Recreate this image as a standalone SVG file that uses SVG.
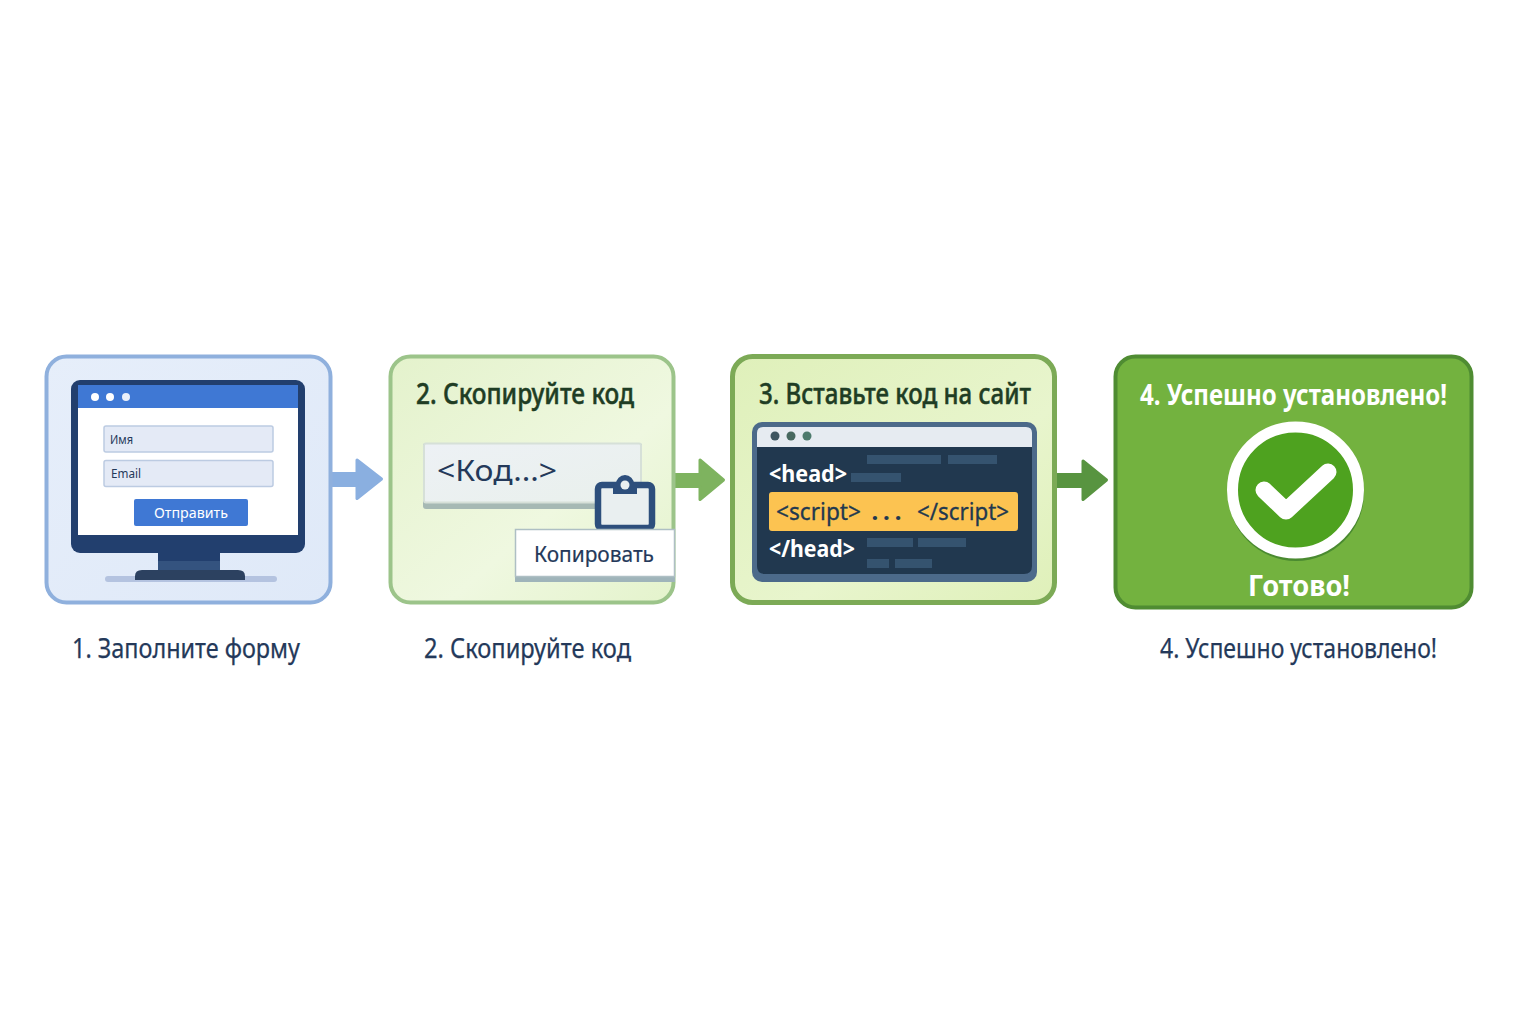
<svg xmlns="http://www.w3.org/2000/svg" width="1536" height="1024" viewBox="0 0 1536 1024">
<defs>
<style>
text{font-family:"Noto Sans","Open Sans","Liberation Sans",sans-serif}
.cap{font-size:27px;fill:#24395a;stroke:#24395a;stroke-width:.25px}
.hd{font-size:29px;font-weight:500;fill:#1f3d24;stroke:#1f3d24;stroke-width:.5px}
.hw{font-size:29px;font-weight:700;fill:#fff}
.code{font-size:24px;font-weight:700;fill:#fff}
.bar{fill:#35536f}
.arr{stroke-width:3px;stroke-linejoin:round}
</style>
<linearGradient id="g1" x1="0" y1="0" x2="1" y2="1"><stop offset="0" stop-color="#e6eefa"/><stop offset="1" stop-color="#dfe9f8"/></linearGradient>
<linearGradient id="g2" x1="0" y1="0" x2="1" y2="1"><stop offset="0" stop-color="#e4f2cc"/><stop offset="0.6" stop-color="#eff8e0"/><stop offset="1" stop-color="#e4f3cc"/></linearGradient>
<linearGradient id="g3" x1="0" y1="0" x2="1" y2="1"><stop offset="0" stop-color="#dff0ba"/><stop offset="0.6" stop-color="#e8f5cd"/><stop offset="1" stop-color="#dff0b9"/></linearGradient>
<linearGradient id="g5" x1="0" y1="0" x2="1" y2="1"><stop offset="0" stop-color="#edf1f5"/><stop offset="1" stop-color="#e9f0ec"/></linearGradient>
</defs>
<rect width="1536" height="1024" fill="#fff"/>
<g id="connectors">
<path class="arr" d="M331 473.500H357V460L381.500 479L357 498.500V485.500H331Z" fill="#8aafe0" stroke="#8aafe0"/>
<path class="arr" d="M674 474.500H700V460L723.500 480L700 499.500V486.500H674Z" fill="#7eb35f" stroke="#7eb35f"/>
<path class="arr" d="M1057 474.500H1083V461L1106.500 480L1083 499.500V486.500H1057Z" fill="#589440" stroke="#589440"/>
</g>
<g id="node1">
<rect x="46.500" y="356.500" width="284" height="246" rx="20" fill="url(#g1)" stroke="#8fb0dd" stroke-width="4"/>
<rect x="71" y="380" width="234" height="173" rx="9" fill="#223f6e"/>
<rect x="78" y="385" width="220" height="23" fill="#3f78d4"/>
<rect x="78" y="408" width="220" height="127" fill="#fff"/>
<circle cx="95" cy="397" r="4" fill="#fff"/><circle cx="110" cy="397" r="4" fill="#fff"/><circle cx="126" cy="397" r="4" fill="#eaf0fa"/>
<rect x="104" y="426" width="169" height="26" rx="2" fill="#e4eaf6" stroke="#bccbe2" stroke-width="1.500"/>
<rect x="104" y="460.500" width="169" height="26" rx="2" fill="#e4eaf6" stroke="#bccbe2" stroke-width="1.500"/>
<text x="110" y="444" font-size="12" fill="#24395a" textLength="23" lengthAdjust="spacingAndGlyphs">Имя</text>
<text x="111" y="478" font-size="12.500" fill="#24395a" textLength="30" lengthAdjust="spacingAndGlyphs">Email</text>
<rect x="134" y="499" width="114" height="27" rx="2" fill="#3f78d4"/>
<text x="191" y="518" font-size="14" fill="#fff" text-anchor="middle" textLength="74" lengthAdjust="spacingAndGlyphs">Отправить</text>
<rect x="105" y="576" width="172" height="6" rx="3" fill="#b4c3e0"/>
<rect x="158" y="553" width="62" height="8" fill="#223f6e"/>
<rect x="158" y="561" width="62" height="10" fill="#34537f"/>
<path d="M135 580V576Q135 570 142 570H238Q245 570 245 576V580Z" fill="#2c4160"/>
</g>
<g id="node2">
<rect x="390.500" y="356.500" width="283" height="246" rx="20" fill="url(#g2)" stroke="#9cc48a" stroke-width="4"/>
<text x="416" y="404" class="hd" textLength="218" lengthAdjust="spacingAndGlyphs">2. Скопируйте код</text>
<rect x="423" y="443" width="219" height="66" rx="3" fill="#a6b9b4"/>
<rect x="424" y="443.500" width="217" height="59" rx="2" fill="url(#g5)" stroke="#d6e0d8" stroke-width="2"/>
<text x="437" y="481" font-size="29" fill="#24395a" textLength="120" lengthAdjust="spacingAndGlyphs">&lt;Код...&gt;</text>
<rect x="598" y="485" width="54" height="43" rx="4" fill="#e9eff0" stroke="#2d4f7c" stroke-width="6.500"/>
<path d="M613 494V484H616A9 9 0 0 1 634 484H637V494Z" fill="#2d4f7c"/>
<circle cx="625" cy="485" r="4.500" fill="#e9eff0"/>
<rect x="515" y="529" width="160" height="53" fill="#9fb4ba"/>
<rect x="515.500" y="529.500" width="159" height="47" fill="#fff" stroke="#aebfc4" stroke-width="1.500"/>
<text x="594" y="562" font-size="22" fill="#24395a" stroke="#24395a" stroke-width=".2" text-anchor="middle" textLength="120" lengthAdjust="spacingAndGlyphs">Копировать</text>
</g>
<g id="node3">
<rect x="732.500" y="356.500" width="322" height="246" rx="20" fill="url(#g3)" stroke="#7caa56" stroke-width="5"/>
<text x="759" y="404" class="hd" textLength="272" lengthAdjust="spacingAndGlyphs">3. Вставьте код на сайт</text>
<rect x="752" y="422" width="285" height="160" rx="10" fill="#4c6a8a"/>
<path d="M757 447V433Q757 427 763 427H1026Q1032 427 1032 433V447Z" fill="#e6ebf1"/>
<path d="M757 447H1032V566Q1032 574 1024 574H765Q757 574 757 566Z" fill="#21384f"/>
<circle cx="775" cy="436" r="4.500" fill="#3d5560"/><circle cx="791" cy="436" r="4.500" fill="#47685f"/><circle cx="807" cy="436" r="4.500" fill="#4d7a6c"/>
<text x="769" y="482" class="code" textLength="78" lengthAdjust="spacingAndGlyphs">&lt;head&gt;</text>
<rect x="867" y="455" width="74" height="9" class="bar"/><rect x="948" y="455" width="49" height="9" class="bar"/><rect x="851" y="473" width="50" height="9" class="bar"/>
<rect x="769" y="492" width="249" height="39" rx="3" fill="#fcc351"/>
<text x="776" y="520" font-size="24" fill="#21384f" stroke="#21384f" stroke-width=".3" textLength="85" lengthAdjust="spacingAndGlyphs">&lt;script&gt;</text>
<text x="889" y="520" font-size="24" font-weight="700" fill="#21384f" text-anchor="middle" letter-spacing="5">...</text>
<text x="917" y="520" font-size="24" fill="#21384f" stroke="#21384f" stroke-width=".3" textLength="92" lengthAdjust="spacingAndGlyphs">&lt;/script&gt;</text>
<text x="769" y="557" class="code" textLength="86" lengthAdjust="spacingAndGlyphs">&lt;/head&gt;</text>
<rect x="867" y="538" width="46" height="9" class="bar"/><rect x="918" y="538" width="48" height="9" class="bar"/><rect x="867" y="559" width="22" height="9" class="bar"/><rect x="895" y="559" width="37" height="9" class="bar"/>
</g>
<g id="node4">
<rect x="1115.500" y="356.500" width="356" height="251" rx="20" fill="#73b23f" stroke="#4f8c32" stroke-width="4"/>
<text x="1140" y="405" class="hw" textLength="307" lengthAdjust="spacingAndGlyphs">4. Успешно установлено!</text>
<circle cx="1296" cy="493" r="68" fill="#4a8a30"/>
<circle cx="1295.500" cy="490" r="63" fill="#4ea21f" stroke="#fff" stroke-width="11"/>
<path d="M1264 490L1286 511L1328 472" fill="none" stroke="#fff" stroke-width="17" stroke-linecap="round" stroke-linejoin="round"/>
<text x="1299" y="596" class="hw" text-anchor="middle" textLength="102" lengthAdjust="spacingAndGlyphs">Готово!</text>
</g>
<g id="captions">
<text x="72" y="658" class="cap" textLength="228" lengthAdjust="spacingAndGlyphs">1. Заполните форму</text>
<text x="424" y="658" class="cap" textLength="207" lengthAdjust="spacingAndGlyphs">2. Скопируйте код</text>
<text x="1160" y="658" class="cap" textLength="277" lengthAdjust="spacingAndGlyphs">4. Успешно установлено!</text>
</g>
</svg>
